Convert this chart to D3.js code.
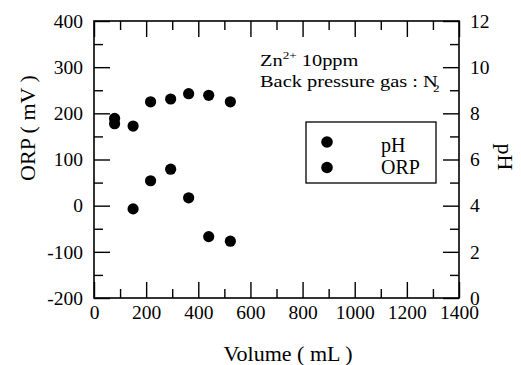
<!DOCTYPE html>
<html>
<head>
<meta charset="utf-8">
<script src="https://cdn.jsdelivr.net/npm/d3@7"></script>
<style>
  body { margin: 0; background: #fff; }
  text { font-family: "Liberation Serif", "DejaVu Serif", serif; fill: #000; }
  .domain { display: none; }
  .tick line { stroke: #000; stroke-width: 1.4; }
</style>
</head>
<body>
<div id="chart"></div>
<script>
// data
var volume = [79, 150, 217, 294, 363, 440, 523];
var ph     = [7.55, 7.45, 8.5, 8.62, 8.85, 8.78, 8.5];
var orp    = [189, -7, 54, 79, 17, -67, -77];

var xTicks   = [0, 200, 400, 600, 800, 1000, 1200, 1400];
var orpTicks = [-200, -100, 0, 100, 200, 300, 400];
var phTicks  = [0, 2, 4, 6, 8, 10, 12];

var width = 521, height = 365;
var margin = { left: 94, right: 62, top: 21, bottom: 67 };
var w = width - margin.left - margin.right;
var h = height - margin.top - margin.bottom;

var svg = d3.select("#chart").append("svg")
  .attr("width", width)
  .attr("height", height);

var g = svg.append("g")
  .attr("transform", "translate(" + margin.left + "," + margin.top + ")");

var x = d3.scaleLinear().domain([0, 1400]).range([0, w]);
var yL = d3.scaleLinear().domain([-200, 400]).range([h, 0]);
var yR = d3.scaleLinear().domain([0, 12]).range([h, 0]);

var major = 16, minor = 9;
var fs = 19.5;
var plain = function(d) { return String(d); };  // hyphen minus like the original

// minor ticks (no labels)
var xMinor = d3.range(100, 1400, 200);
var lMinor = d3.range(-150, 400, 100);
var rMinor = d3.range(1, 12, 2);

g.append("g").attr("transform", "translate(0," + h + ")")
  .call(d3.axisBottom(x).tickValues(xMinor).tickSize(-minor).tickFormat(""));
g.append("g")
  .call(d3.axisTop(x).tickValues(xMinor).tickSize(-minor).tickFormat(""));
g.append("g")
  .call(d3.axisLeft(yL).tickValues(lMinor).tickSize(-minor).tickFormat(""));
g.append("g").attr("transform", "translate(" + w + ",0)")
  .call(d3.axisRight(yR).tickValues(rMinor).tickSize(-minor).tickFormat(""));

// major ticks
g.append("g").attr("transform", "translate(0," + h + ")")
  .call(d3.axisBottom(x).tickValues(xTicks).tickSize(-major).tickPadding(7).tickFormat(plain))
  .selectAll("text").attr("font-size", fs).attr("font-family", null);
g.append("g")
  .call(d3.axisTop(x).tickValues(xTicks).tickSize(-major).tickFormat(""));
g.append("g")
  .call(d3.axisLeft(yL).tickValues(orpTicks).tickSize(-major).tickPadding(11).tickFormat(plain))
  .selectAll("text").attr("font-size", fs).attr("font-family", null);
g.append("g").attr("transform", "translate(" + w + ",0)")
  .call(d3.axisRight(yR).tickValues(phTicks).tickSize(-major).tickPadding(11).tickFormat(plain))
  .selectAll("text").attr("font-size", fs).attr("font-family", null);

// frame
g.append("rect")
  .attr("width", w).attr("height", h)
  .attr("fill", "none").attr("stroke", "#000").attr("stroke-width", 1.6);

// points
g.selectAll("circle.ph")
  .data(volume.map(function(v, i) { return [v, ph[i]]; }))
  .enter().append("circle")
  .attr("class", "ph")
  .attr("cx", function(d) { return x(d[0]); })
  .attr("cy", function(d) { return yR(d[1]); })
  .attr("r", 5.6);

g.selectAll("circle.orp")
  .data(volume.map(function(v, i) { return [v, orp[i]]; }))
  .enter().append("circle")
  .attr("class", "orp")
  .attr("cx", function(d) { return x(d[0]); })
  .attr("cy", function(d) { return yL(d[1]); })
  .attr("r", 5.6);

// annotation (scanned type is a bit wide, so stretch it)
var note = svg.append("text").attr("transform", "translate(260,66) scale(1.2,1)").attr("font-size", 17);
note.append("tspan").text("Zn");
note.append("tspan").attr("font-size", 11).attr("dy", -7).text("2+");
note.append("tspan").attr("dy", 7).text(" 10ppm");

var note2 = svg.append("text").attr("transform", "translate(260,87) scale(1.2,1)").attr("font-size", 17);
note2.append("tspan").text("Back pressure gas : N");
note2.append("tspan").attr("font-size", 11).attr("dx", -4).attr("dy", 5).text("2");

// legend
var legend = svg.append("g");
legend.append("rect")
  .attr("x", 306).attr("y", 122).attr("width", 130).attr("height", 61)
  .attr("fill", "#fff").attr("stroke", "#000").attr("stroke-width", 1.3);
var legendItems = ["pH", "ORP"];
var legendDot = [142, 167.5];
var legendBase = [152, 174];
legendItems.forEach(function(name, i) {
  legend.append("circle").attr("cx", 327).attr("cy", legendDot[i]).attr("r", 5.8);
  legend.append("text").attr("x", 381).attr("y", legendBase[i]).attr("font-size", 20).text(name);
});

// axis titles
svg.append("text")
  .attr("x", 288).attr("y", 361)
  .attr("text-anchor", "middle").attr("font-size", 22)
  .text("Volume ( mL )");

svg.append("text")
  .attr("transform", "translate(35,128) rotate(-90)")
  .attr("text-anchor", "middle").attr("font-size", 22)
  .text("ORP ( mV )");

svg.append("text")
  .attr("transform", "translate(498,157) rotate(90)")
  .attr("text-anchor", "middle").attr("font-size", 22)
  .text("pH");
</script>
</body>
</html>
